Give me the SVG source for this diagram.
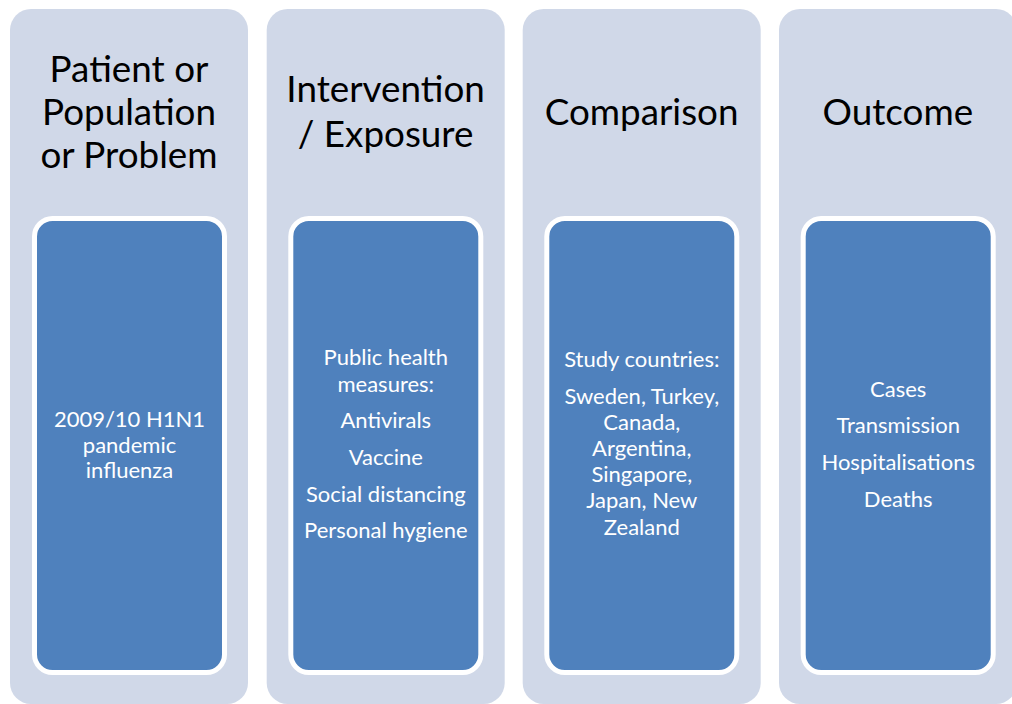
<svg xmlns="http://www.w3.org/2000/svg" width="1012" height="704" viewBox="0 0 1012 704">
<style>
.outer{fill:#D0D8E8;}
.inner{fill:#4F81BD;stroke:#FFFFFF;stroke-width:5;}
.title{font-family:Lato,"Liberation Sans",sans-serif;font-size:36.8px;fill:#000000;text-anchor:middle;}
.body{font-family:Lato,"Liberation Sans",sans-serif;font-size:22px;fill:#FFFFFF;text-anchor:middle;}
</style>
<rect width="1012" height="704" fill="#FFFFFF"/>
<g id="col-patient">
  <rect class="outer" x="10" y="9" width="238" height="695" rx="21"/>
  <text class="title"><tspan x="129" y="82">Patient or</tspan><tspan x="129" y="125">Population</tspan><tspan x="129" y="168">or Problem</tspan></text>
  <g id="box-patient">
    <rect class="inner" x="34.5" y="218.5" width="190" height="454" rx="18"/>
    <text class="body"><tspan x="129.5" y="426.7">2009/10 H1N1</tspan><tspan x="129.5" y="453.3">pandemic</tspan><tspan x="129.5" y="478">influenza</tspan></text>
  </g>
</g>
<g id="col-intervention">
  <rect class="outer" x="266.7" y="9" width="238" height="695" rx="21"/>
  <text class="title"><tspan x="385.6" y="102">Intervention</tspan><tspan x="385.6" y="146.7">/ Exposure</tspan></text>
  <g id="box-intervention">
    <rect class="inner" x="290.8" y="218.5" width="190" height="454" rx="18"/>
    <text class="body"><tspan x="385.8" y="365">Public health</tspan><tspan x="385.8" y="391.7">measures:</tspan><tspan x="385.8" y="428.3">Antivirals</tspan><tspan x="385.8" y="465">Vaccine</tspan><tspan x="385.8" y="501.7">Social distancing</tspan><tspan x="385.8" y="538.3">Personal hygiene</tspan></text>
  </g>
</g>
<g id="col-comparison">
  <rect class="outer" x="522.7" y="9" width="238" height="695" rx="21"/>
  <text class="title"><tspan x="641.6" y="125">Comparison</tspan></text>
  <g id="box-comparison">
    <rect class="inner" x="546.8" y="218.5" width="190" height="454" rx="18"/>
    <text class="body"><tspan x="641.8" y="367.3">Study countries:</tspan><tspan x="641.8" y="404">Sweden, Turkey,</tspan><tspan x="641.8" y="430">Canada,</tspan><tspan x="641.8" y="456">Argentina,</tspan><tspan x="641.8" y="481.7">Singapore,</tspan><tspan x="641.8" y="508.3">Japan, New</tspan><tspan x="641.8" y="535">Zealand</tspan></text>
  </g>
</g>
<g id="col-outcome">
  <rect class="outer" x="779" y="9" width="238" height="695" rx="21"/>
  <text class="title"><tspan x="897.8" y="125">Outcome</tspan></text>
  <g id="box-outcome">
    <rect class="inner" x="803.2" y="218.5" width="190" height="454" rx="18"/>
    <text class="body"><tspan x="898.2" y="396.7">Cases</tspan><tspan x="898.2" y="433.3">Transmission</tspan><tspan x="898.2" y="470">Hospitalisations</tspan><tspan x="898.2" y="506.7">Deaths</tspan></text>
  </g>
</g>
</svg>
